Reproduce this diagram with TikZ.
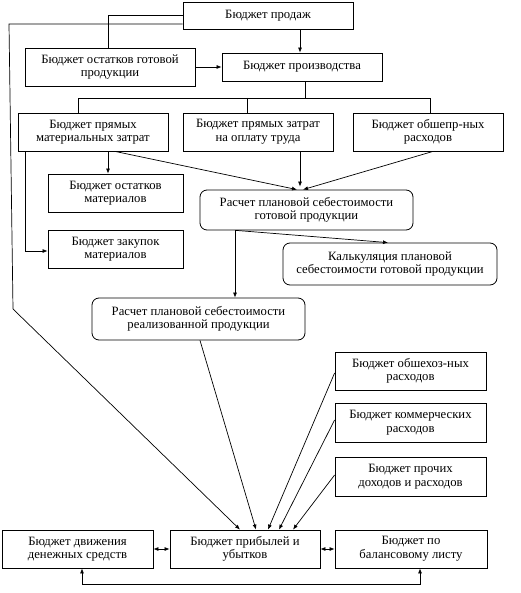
\documentclass[tikz,border=0pt]{standalone}
\usepackage{fontspec}
\setmainfont{Liberation Serif}
\newfontfamily\tnr{Liberation Serif}
\usetikzlibrary{arrows.meta,calc}
\begin{document}
\begin{tikzpicture}[x=1pt,y=-1pt,
  every node/.style={font=\tnr\fontsize{12.7pt}{13.6pt}\selectfont, inner sep=0pt, align=center},
  bx/.style={draw, line width=0.8pt, minimum width=#1, minimum height=38pt},
  rbx/.style={draw, line width=0.8pt, rounded corners=7pt, minimum width=#1, minimum height=41pt},
  ln/.style={line width=0.7pt},
  ar/.style={line width=0.7pt, -{Latex[length=5pt,width=4pt]}},
  dar/.style={line width=0.7pt, {Latex[length=5pt,width=4pt]}-{Latex[length=5pt,width=4pt]}}]
\useasboundingbox (0,0) rectangle (520,593);
\node[bx=170pt, minimum height=27pt] (prod) at (268,15.5) {Бюджет продаж};
\node[bx=170pt] (ostgp) at (110,67) {Бюджет остатков готовой\\продукции};
\node[bx=160pt, minimum height=28pt] (proizv) at (302,67) {Бюджет производства};
\node[bx=150pt] (pmz) at (93,132) {Бюджет прямых\\материальных затрат};
\node[bx=150pt] (pzot) at (258,132) {Бюджет прямых затрат\\на оплату труда};
\node[bx=150pt] (obsh) at (428,132) {Бюджет обшепр-ных\\расходов};
\node[bx=135pt] (ostm) at (115.5,193) {Бюджет остатков\\материалов};
\node[bx=135pt] (zak) at (115.5,249) {Бюджет закупок\\материалов};
\node[rbx=213pt, minimum height=40pt] (r1) at (306.5,210) {Расчет плановой себестоимости\\готовой продукции};
\node[rbx=214pt, minimum height=42pt] (kalk) at (390,264) {Калькуляция плановой\\себестоимости готовой продукции};
\node[rbx=213pt, minimum height=42pt] (r2) at (198.5,319) {Расчет плановой себестоимости\\реализованной продукции};
\node[bx=151pt] (obhoz) at (410.5,371) {Бюджет обшехоз-ных\\расходов};
\node[bx=151pt, minimum height=39pt] (komm) at (410.5,422.5) {Бюджет коммерческих\\расходов};
\node[bx=151pt, minimum height=39pt] (proch) at (410.5,476.5) {Бюджет прочих\\доходов и расходов};
\node[bx=151pt] (ddc) at (77.5,549) {Бюджет движения\\денежных средств};
\node[bx=150pt] (pu) at (245,549) {Бюджет прибылей и\\убытков};
\node[bx=152pt] (bal) at (411,549) {Бюджет по\\балансовому листу};
% top connections
\draw[ar] (prod.south -| 300,0) -- (proizv.north -| 300,0);
\draw[ar] (ostgp.east) -- (proizv.west |- ostgp.east);
\draw[ln] (prod.west) -- (108,15.5) -- (ostgp.north -| 108,0);
\coordinate (lc1) at (9,24);
\coordinate (lc2) at (13,309);
\draw[ar] (prod.west |- lc1) -- (lc1) -- (lc2) -- (pu.north -| 240,0);
% production distribution
\coordinate (bus) at (305,98);
\draw[ln] (proizv.south -| bus) -- (bus);
\draw[ln] (pmz.north -| 78,0) -- (78,98) -- (430,98) -- (obsh.north -| 430,0);
\draw[ln] (247,98) -- (pzot.north -| 247,0);
% materials
\draw[ar] (pmz.south -| 108,0) -- (ostm.north -| 108,0);
\draw[ar] (pmz.south -| 25,0) -- (25,251) -- (zak.west |- 0,251);
\draw[ar] (pmz.south -| 115,0) -- (r1.north -| 297,0);
\draw[ar] (pzot.south -| 300,0) -- ($(r1.north -| 300,0)+(0,-3)$);
\draw[ar] (obsh.south -| 433,0) -- (r1.north -| 303,0);
% r1 outputs
\draw[ar] (r1.south -| 235,0) -- (r2.north -| 235,0);
\draw[ar] (r1.south -| 236,0) -- (kalk.north -| 388,0);
% to profit & loss
\draw[ar] (r2.south -| 200,0) -- (pu.north -| 256,0);
\draw[ar] (obhoz.west |- 0,373) -- (pu.north -| 268,0);
\draw[ar] (komm.west |- 0,420) -- (pu.north -| 279,0);
\draw[ar] (proch.west |- 0,475) -- (pu.north -| 293,0);
% bottom
\draw[dar] (ddc.east) -- (pu.west);
\draw[dar] (pu.east) -- (bal.west);
\coordinate (b1) at (82,584);
\coordinate (b2) at (420,584);
\draw[dar] (ddc.south -| b1) -- (b1) -- (b2) -- (bal.south -| b2);
\end{tikzpicture}
\end{document}
